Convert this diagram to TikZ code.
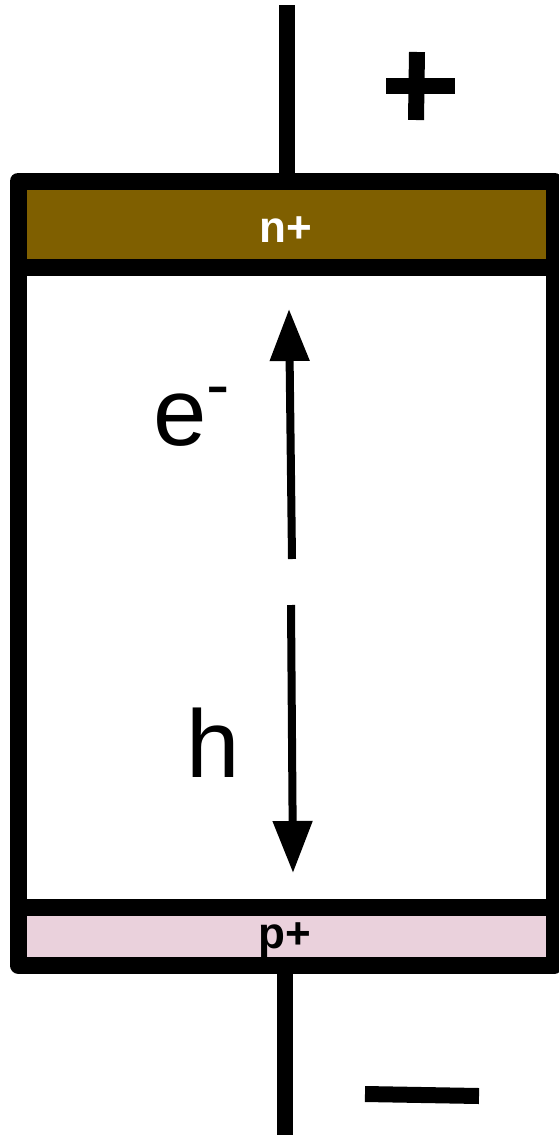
\documentclass[tikz,border=0pt]{standalone}
\usepackage{fontspec}
\setmainfont{Liberation Sans}
\usepackage{tikz}
\usetikzlibrary{arrows.meta,calc}

\definecolor{nplus}{RGB}{127,95,0}
\definecolor{pplus}{RGB}{234,209,220}

\begin{document}
\begin{tikzpicture}[x=1pt,y=-1pt,
  wire/.style={line width=16pt},
  frame/.style={line width=17pt,line join=round},
  carrier/.style={line width=8pt,-{Triangle[length=52pt,width=38pt]}},
  big/.style={font=\fontsize{96}{96}\selectfont,anchor=base west,inner sep=0pt},
  dop/.style={font=\fontsize{44}{44}\selectfont\bfseries,anchor=base,inner sep=0pt}]
\useasboundingbox (0,0) rectangle (558,1135);
%\draw[help lines,step=50] (0,0) grid (558,1135);

% doped layers
\fill[nplus] (18,181) rectangle (554,267);
\fill[pplus] (18,907) rectangle (554,965);

% device body
\draw[frame] (18,181) rectangle (554,965);
\draw[frame] (18,267) -- (554,267);
\draw[frame] (18,907) -- (554,907);

% leads
\coordinate (topend) at (287,5);
\coordinate (topin) at (287,181);
\coordinate (botin) at (285,965);
\coordinate (botend) at (285,1135);
\draw[wire] (topend) -- (topin);
\draw[wire] (botin) -- (botend);

% polarity
\draw[wire] (417,52) -- (416,120);
\draw[wire] (386,86) -- (455,86);
\draw[wire] (365,1094) -- (479,1096);

\node[dop,white] (ntext) at (286,242) {n+};
\node[dop] (ptext) at (285,948) {p+};

% carriers
\coordinate (e0) at (292,559);
\coordinate (e1) at (289,309);
\coordinate (h0) at (291,605);
\coordinate (h1) at (293,873);
\draw[carrier] (e0) -- (e1);
\draw[carrier] (h0) -- (h1);

\node[big] (elec) at (153,445) {e\raisebox{37pt}{\fontsize{70}{70}\selectfont -}};
\node[big] (hole) at (186,777) {h};

\end{tikzpicture}
\end{document}
